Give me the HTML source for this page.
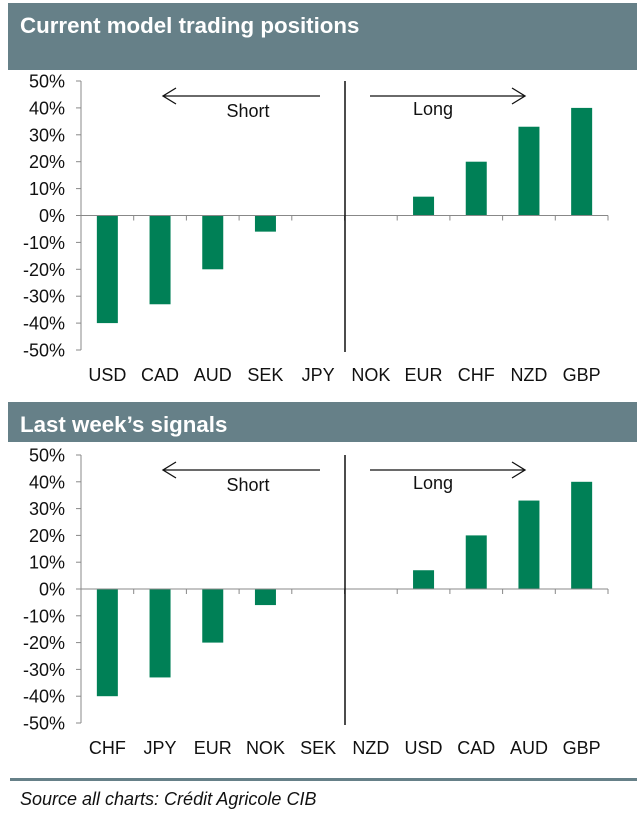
<!DOCTYPE html>
<html><head><meta charset="utf-8"><style>
body{margin:0;background:#fff;width:637px;height:818px;overflow:hidden;font-family:"Liberation Sans",Arial,sans-serif}
svg{display:block}
</style></head><body>
<svg id="s" width="637" height="818">
<rect x="8" y="3" width="629" height="67" fill="#668088"/>
<text x="20" y="33" fill="#fff" font-size="22.3" font-weight="bold">Current model trading positions</text>
<rect x="8" y="402" width="629" height="40" fill="#668088"/>
<text x="20" y="432" fill="#fff" font-size="22.3" font-weight="bold">Last week’s signals</text>
<rect x="10" y="778" width="627" height="3" fill="#668088"/>
<text x="20" y="805" font-size="18" font-style="italic" fill="#111">Source all charts: Crédit Agricole CIB</text>
</svg>
<script>
const cats1=["USD","CAD","AUD","SEK","JPY","NOK","EUR","CHF","NZD","GBP"];
const vals1=[-40,-33,-20,-6,0,0,7,20,33,40];
const cats2=["CHF","JPY","EUR","NOK","SEK","NZD","USD","CAD","AUD","GBP"];
const vals2=[-40,-33,-20,-6,0,0,7,20,33,40];
const ticks=[50,40,30,20,10,0,-10,-20,-30,-40,-50];
const NS="http://www.w3.org/2000/svg";
const svg=document.getElementById('s');
function mk(t,a,p){const e=document.createElementNS(NS,t);for(const k in a)e.setAttribute(k,a[k]);(p||svg).appendChild(e);return e;}
function chart(cats,vals,top,bot,name){
  const g=mk('g',{});
  
  
  const x0=81,x1=608,bw=(x1-x0)/cats.length;
  const y=v=>top+(50-v)/100*(bot-top);
  const cx=i=>x0+bw*(i+0.5);
  mk('line',{x1:x0,y1:top,x2:x0,y2:bot,stroke:'#888','stroke-width':1},g);
  ticks.forEach(t=>{
    mk('line',{x1:x0-5,y1:y(t),x2:x0,y2:y(t),stroke:'#888'},g);
    const tx=mk('text',{x:65,y:y(t)+6.5,'text-anchor':'end','font-size':18,fill:'#111'},g);
    tx.textContent=t+'%';
    
    
  });
  vals.forEach((v,i)=>{
    const r=mk('rect',{x:cx(i)-10.5,y:Math.min(y(v),y(0)),width:21,height:Math.abs(y(v)-y(0)),fill:'#008056'},g);
    
    
  });
  mk('line',{x1:x0,y1:y(0),x2:x1,y2:y(0),stroke:'#888'},g);
  for(let i=0;i<=cats.length;i++) mk('line',{x1:x0+bw*i,y1:y(0),x2:x0+bw*i,y2:y(0)+5,stroke:'#888'},g);
  cats.forEach((c,i)=>{
    const tx=mk('text',{x:cx(i),y:bot+31,'text-anchor':'middle','font-size':18,fill:'#111'},g);
    tx.textContent=c;
    
    
  });
  mk('line',{x1:345,y1:top,x2:345,y2:bot+2,stroke:'#111','stroke-width':1.5},g);
  const ay=top+15;
  mk('path',{d:`M163 ${ay}H320 M176 ${ay-8}L163 ${ay}L176 ${ay+8}`,fill:'none',stroke:'#111','stroke-width':1.3},g);
  mk('path',{d:`M370 ${ay}H525 M512 ${ay-8}L525 ${ay}L512 ${ay+8}`,fill:'none',stroke:'#111','stroke-width':1.3},g);
  const s=mk('text',{x:248,y:ay+21,'text-anchor':'middle','font-size':18,fill:'#111'},g);s.textContent='Short';
  
  
  const l=mk('text',{x:433,y:ay+19,'text-anchor':'middle','font-size':18,fill:'#111'},g);l.textContent='Long';
  
  
}
chart(cats1,vals1,81,350,'current-positions-chart');
chart(cats2,vals2,455,723,'last-week-chart');
</script>
</body></html>
